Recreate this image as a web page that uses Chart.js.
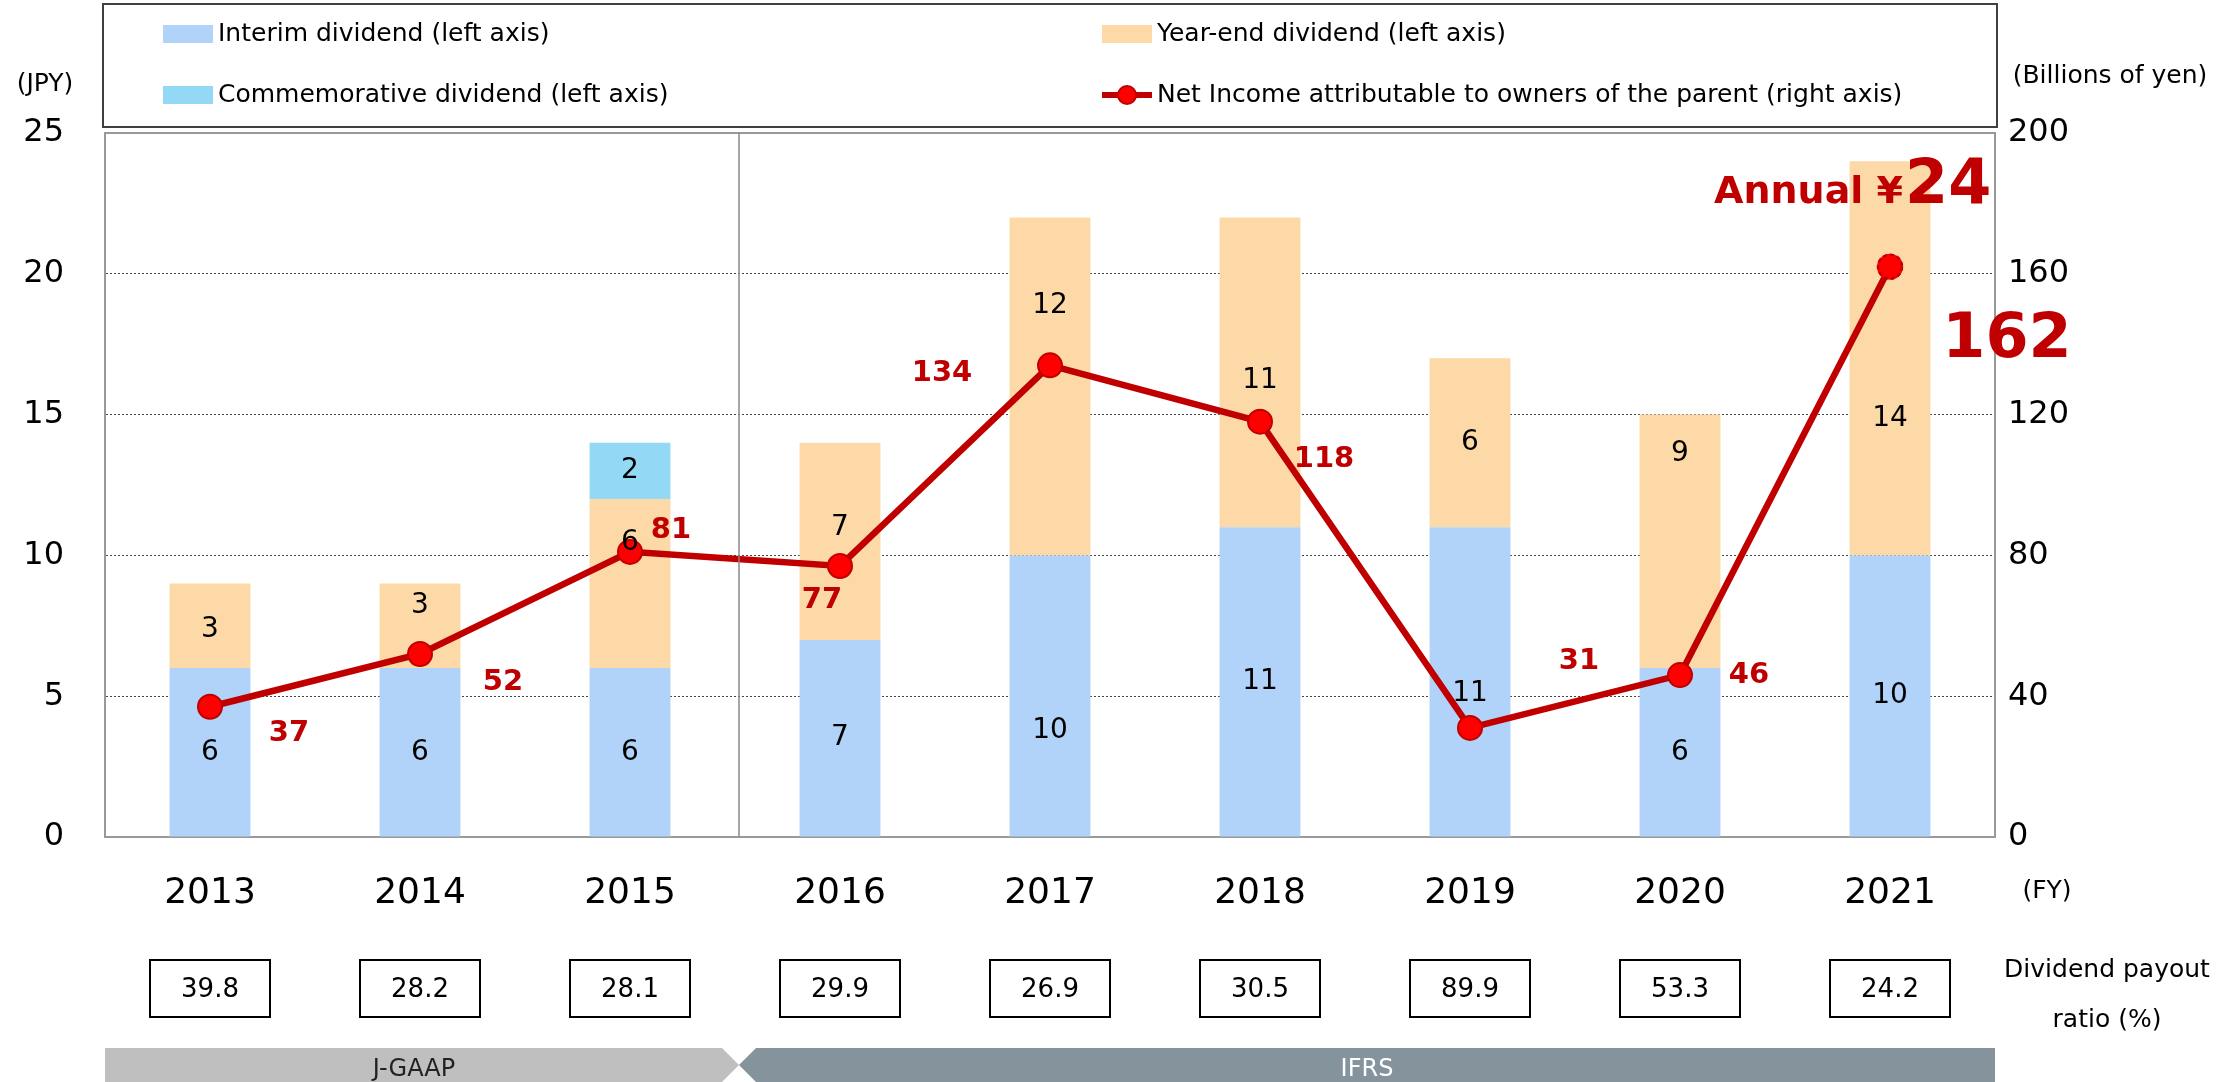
<!DOCTYPE html>
<html>
<head>
<meta charset="utf-8">
<title>Dividends and net income</title>
<script src="https://cdn.jsdelivr.net/npm/chart.js@4"></script>
<style>
  html, body { margin: 0; padding: 0; background: #fff; }
  canvas { display: block; }
</style>
</head>
<body>
<canvas id="dividendChart" width="2221" height="1082"></canvas>
<script>
// chart values
const fiscalYears = ['2013', '2014', '2015', '2016', '2017', '2018', '2019', '2020', '2021'];
const interimDividend = [6, 6, 6, 7, 10, 11, 11, 6, 10];
const yearEndDividend = [3, 3, 6, 7, 12, 11, 6, 9, 14];
const commemorativeDividend = [null, null, 2, null, null, null, null, null, null];
const netIncome = [37, 52, 81, 77, 134, 118, 31, 46, 162];
const payoutRatio = ['39.8', '28.2', '28.1', '29.9', '26.9', '30.5', '89.9', '53.3', '24.2'];
const dividendTicks = [0, 5, 10, 15, 20, 25];
const incomeTicks = [0, 40, 80, 120, 160, 200];

// label placement (pixels, relative to the default spot)
const interimLabelNudge = [0, 0, 0, 0, 35, 0, 12, 0, 0];
const yearEndLabelNudge = [4, -20, -41, -14, -81, 8, 0, -88, 60];
const incomeLabelOffset = [[79, 27], [83, 29], [41, -21], [-18, 35], [-108, 8], [64, 38], [109, -66], [69, 0], [117, 74]];

const FONT = '"DejaVu Sans", Verdana, sans-serif';
const RED = '#C00000';
const COLORS = {
    interim: '#B1D3FA',
    yearEnd: '#FDD9A7',
    commemorative: '#93D9F6'
};

// Vẽ chú thích, ô tỷ lệ và các nhãn phụ
const extrasPlugin = {
    id: 'extras',
    afterDatasetsDraw(chart) {
        const ctx = chart.ctx;
        const area = chart.chartArea;
        const x = chart.scales.x;

        ctx.save();
        // khung trên của vùng vẽ
        ctx.strokeStyle = '#999';
        ctx.lineWidth = 2;
        ctx.beginPath();
        ctx.moveTo(area.left, area.top);
        ctx.lineTo(area.right, area.top);
        ctx.stroke();

        // đường phân cách J-GAAP / IFRS
        const sepX = (x.getPixelForValue(2) + x.getPixelForValue(3)) / 2 + 4;
        ctx.strokeStyle = '#888';
        ctx.lineWidth = 1.5;
        ctx.beginPath();
        ctx.moveTo(sepX, area.top);
        ctx.lineTo(sepX, area.bottom);
        ctx.stroke();

        // nhãn trong cột
        ctx.fillStyle = '#000';
        ctx.font = '28px ' + FONT;
        ctx.textAlign = 'center';
        ctx.textBaseline = 'middle';
        const nudges = [interimLabelNudge, yearEndLabelNudge, null];
        [0, 1, 2].forEach(di => {
            const meta = chart.getDatasetMeta(di);
            const values = chart.data.datasets[di].data;
            meta.data.forEach((bar, i) => {
                if (values[i] == null) return;
                const dy = nudges[di] ? nudges[di][i] : 0;
                ctx.fillText(String(values[i]), bar.x, (bar.y + bar.base) / 2 + dy);
            });
        });

        // điểm cuối viền nét đứt
        const lineMeta = chart.getDatasetMeta(3);
        const last = lineMeta.data[lineMeta.data.length - 1];
        ctx.setLineDash([4, 3]);
        ctx.strokeStyle = RED;
        ctx.lineWidth = 2.5;
        ctx.beginPath();
        ctx.arc(last.x, last.y, 12, 0, Math.PI * 2);
        ctx.stroke();
        ctx.setLineDash([]);

        // nhãn lợi nhuận
        ctx.fillStyle = RED;
        lineMeta.data.forEach((pt, i) => {
            const big = i === netIncome.length - 1;
            ctx.font = 'bold ' + (big ? 62 : 29) + 'px ' + FONT;
            ctx.fillText(String(netIncome[i]), pt.x + incomeLabelOffset[i][0], pt.y + incomeLabelOffset[i][1]);
        });

        // Annual ¥24
        const lastIdx = fiscalYears.length - 1;
        const annual = (interimDividend[lastIdx] || 0) + (yearEndDividend[lastIdx] || 0) + (commemorativeDividend[lastIdx] || 0);
        ctx.textBaseline = 'alphabetic';
        ctx.textAlign = 'left';
        ctx.font = 'bold 62px ' + FONT;
        ctx.fillText(String(annual), 1905, 203);
        ctx.textAlign = 'right';
        ctx.font = 'bold 38px ' + FONT;
        ctx.fillText('Annual \u00A5', 1903, 203);

        // ô tỷ lệ chi trả cổ tức
        ctx.textAlign = 'center';
        ctx.textBaseline = 'middle';
        ctx.font = '26px ' + FONT;
        payoutRatio.forEach((r, i) => {
            const cx = x.getPixelForValue(i);
            ctx.fillStyle = '#fff';
            ctx.fillRect(cx - 60, 960, 120, 57);
            ctx.strokeStyle = '#000';
            ctx.lineWidth = 2;
            ctx.strokeRect(cx - 60, 960, 120, 57);
            ctx.fillStyle = '#000';
            ctx.fillText(r, cx, 990);
        });

        ctx.font = '25px ' + FONT;
        ctx.fillText('Dividend payout', 2107, 970);
        ctx.fillText('ratio (%)', 2107, 1020);
        ctx.fillText('(FY)', 2047, 891);
        ctx.fillText('(JPY)', 45, 84);
        ctx.fillText('(Billions of yen)', 2110, 76);

        // dải J-GAAP / IFRS
        const bandTop = 1048, bandBot = 1082, bandMid = 1065;
        ctx.fillStyle = '#BFBFBF';
        ctx.beginPath();
        ctx.moveTo(area.left, bandTop);
        ctx.lineTo(sepX - 17, bandTop);
        ctx.lineTo(sepX, bandMid);
        ctx.lineTo(sepX - 17, bandBot);
        ctx.lineTo(area.left, bandBot);
        ctx.closePath();
        ctx.fill();
        ctx.fillStyle = '#84939C';
        ctx.beginPath();
        ctx.moveTo(sepX + 17, bandTop);
        ctx.lineTo(area.right, bandTop);
        ctx.lineTo(area.right, bandBot);
        ctx.lineTo(sepX + 17, bandBot);
        ctx.lineTo(sepX, bandMid);
        ctx.closePath();
        ctx.fill();
        ctx.font = '24px ' + FONT;
        ctx.fillStyle = '#222';
        ctx.fillText('J-GAAP', 414, 1070);
        ctx.fillStyle = '#fff';
        ctx.fillText('IFRS', 1367, 1070);

        // chú thích
        ctx.strokeStyle = '#404040';
        ctx.lineWidth = 2;
        ctx.strokeRect(area.left - 2, 4, area.right - area.left + 4, 123);
        const items = [
            { ds: 0, x: 163, y: 34 },
            { ds: 1, x: 1102, y: 34 },
            { ds: 2, x: 163, y: 95 },
            { ds: 3, x: 1102, y: 95 }
        ];
        ctx.textAlign = 'left';
        ctx.font = '25px ' + FONT;
        items.forEach(it => {
            const d = chart.data.datasets[it.ds];
            if (d.type === 'line') {
                ctx.strokeStyle = RED;
                ctx.lineWidth = 6;
                ctx.beginPath();
                ctx.moveTo(it.x, it.y);
                ctx.lineTo(it.x + 50, it.y);
                ctx.stroke();
                ctx.fillStyle = '#FF0000';
                ctx.strokeStyle = RED;
                ctx.lineWidth = 2;
                ctx.beginPath();
                ctx.arc(it.x + 25, it.y, 9, 0, Math.PI * 2);
                ctx.fill();
                ctx.stroke();
            } else {
                ctx.fillStyle = d.backgroundColor;
                ctx.fillRect(it.x, it.y - 9, 50, 18);
            }
            ctx.fillStyle = '#000';
            ctx.fillText(d.label, it.x + 55, it.y);
        });
        ctx.restore();
    }
};

function initDividendChart() {
    const ctx = document.getElementById('dividendChart').getContext('2d');
    const lastIdx = netIncome.length - 1;
    new Chart(ctx, {
        data: {
            labels: fiscalYears,
            datasets: [
                {
                    type: 'bar',
                    label: 'Interim dividend (left axis)',
                    data: interimDividend,
                    backgroundColor: COLORS.interim,
                    yAxisID: 'y',
                    stack: 'div',
                    order: 2
                },
                {
                    type: 'bar',
                    label: 'Year-end dividend (left axis)',
                    data: yearEndDividend,
                    backgroundColor: COLORS.yearEnd,
                    yAxisID: 'y',
                    stack: 'div',
                    order: 2
                },
                {
                    type: 'bar',
                    label: 'Commemorative dividend (left axis)',
                    data: commemorativeDividend,
                    backgroundColor: COLORS.commemorative,
                    yAxisID: 'y',
                    stack: 'div',
                    order: 2
                },
                {
                    type: 'line',
                    label: 'Net Income attributable to owners of the parent (right axis)',
                    data: netIncome,
                    yAxisID: 'y2',
                    borderColor: RED,
                    borderWidth: 6.5,
                    pointRadius: 12,
                    pointBackgroundColor: '#FF0000',
                    pointBorderColor: netIncome.map((v, i) => i === lastIdx ? '#FF0000' : RED),
                    pointBorderWidth: 2,
                    tension: 0,
                    order: 1
                }
            ]
        },
        options: {
            responsive: false,
            devicePixelRatio: 1,
            animation: false,
            layout: { padding: { top: 133, left: 0, right: 0, bottom: 0 } },
            plugins: {
                legend: { display: false },
                tooltip: { enabled: false }
            },
            datasets: {
                bar: { barPercentage: 0.385, categoryPercentage: 1 }
            },
            scales: {
                x: {
                    stacked: true,
                    grid: { display: false, drawTicks: false },
                    border: { display: true, color: '#999', width: 2 },
                    ticks: { color: '#000', font: { family: FONT, size: 36 }, padding: 35 },
                    afterFit(scale) { scale.height = 245; }
                },
                y: {
                    stacked: true,
                    position: 'left',
                    min: dividendTicks[0],
                    max: dividendTicks[dividendTicks.length - 1],
                    afterBuildTicks(scale) { scale.ticks = dividendTicks.map(v => ({ value: v })); },
                    grid: {
                        drawTicks: false,
                        color: c => (c.tick.value === 0 || c.tick.value === 25) ? 'rgba(0,0,0,0)' : '#444',
                        lineWidth: 1
                    },
                    border: { display: true, color: '#999', width: 2, dash: [2, 2] },
                    ticks: { color: '#000', font: { family: FONT, size: 32 }, padding: 41 },
                    afterFit(scale) { scale.width = 105; }
                },
                y2: {
                    position: 'right',
                    min: incomeTicks[0],
                    max: incomeTicks[incomeTicks.length - 1],
                    afterBuildTicks(scale) { scale.ticks = incomeTicks.map(v => ({ value: v })); },
                    grid: { display: false, drawTicks: false },
                    border: { display: true, color: '#999', width: 2 },
                    ticks: { color: '#000', font: { family: FONT, size: 32 }, padding: 13 },
                    afterFit(scale) { scale.width = 226; }
                }
            }
        },
        plugins: [extrasPlugin]
    });
}

document.addEventListener('DOMContentLoaded', initDividendChart);
</script>
</body>
</html>
